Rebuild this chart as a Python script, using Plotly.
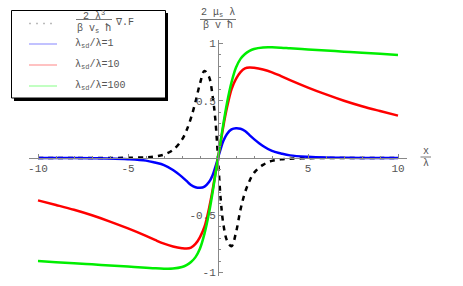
import plotly.graph_objects as go

# ---- data ----
x = [-10, -9, -8, -7, -6, -5, -4, -3.5, -3, -2.5, -2, -1.75, -1.5, -1.25, -1, -0.75, -0.5, -0.3, -0.15,
     0, 0.15, 0.3, 0.5, 0.75, 1, 1.25, 1.5, 1.75, 2, 2.5, 3, 3.5, 4, 5, 6, 7, 8, 9, 10]

div_force = [0, 0, 0, 0, 0, 0.002, 0.006, 0.013, 0.03, 0.07, 0.16, 0.24, 0.35, 0.49, 0.65, 0.76, 0.71, 0.54, 0.34,
             0, -0.36, -0.58, -0.72, -0.77, -0.65, -0.45, -0.3, -0.2, -0.13, -0.06, -0.025, -0.012, -0.006, -0.002,
             0, 0, 0, 0, 0]

ratio_1 = [0, -0.001, -0.001, -0.002, -0.004, -0.01, -0.023, -0.04, -0.062, -0.105, -0.165, -0.2, -0.235, -0.255,
           -0.26, -0.25, -0.21, -0.15, -0.08,
           0, 0.08, 0.15, 0.21, 0.25, 0.26, 0.255, 0.235, 0.2, 0.165, 0.105, 0.062, 0.04, 0.023, 0.01, 0.004,
           0.002, 0.001, 0.001, 0]

ratio_10 = [-0.37, -0.41, -0.452, -0.5, -0.555, -0.615, -0.68, -0.715, -0.748, -0.772, -0.787, -0.79, -0.782,
            -0.75, -0.69, -0.6, -0.44, -0.28, -0.14,
            0, 0.14, 0.28, 0.44, 0.6, 0.69, 0.75, 0.782, 0.79, 0.787, 0.772, 0.748, 0.715, 0.68, 0.615, 0.555,
            0.5, 0.452, 0.41, 0.37]

ratio_100 = [-0.9, -0.909, -0.918, -0.928, -0.938, -0.948, -0.958, -0.963, -0.966, -0.965, -0.952, -0.935,
             -0.908, -0.865, -0.79, -0.66, -0.48, -0.3, -0.15,
             0, 0.15, 0.3, 0.48, 0.66, 0.79, 0.865, 0.908, 0.935, 0.952, 0.965, 0.966, 0.963, 0.958, 0.948,
             0.938, 0.928, 0.918, 0.909, 0.9]

x_ticks = [-10, -5, 5, 10]
x_tick_text = ["-10", "-5", "5", "10"]
y_ticks = [-1, -0.5, 0.5, 1]
y_tick_text = ["-1", "-0.5", "0.5", "1"]

legend_labels = ["λ<sub>sd</sub>/λ=1", "λ<sub>sd</sub>/λ=10", "λ<sub>sd</sub>/λ=100"]

# ---- layout helpers ----
W, H = 463, 286
L, R, T, B = 29, 56, 40, 10
PW, PH = W - L - R, H - T - B


def px(v):
    return (v - L) / PW


def py(v):
    return (H - B - v) / PH


MONO = "Liberation Mono, Courier New, monospace"
GREY = "#555555"

fig = go.Figure()
fig.add_trace(go.Scatter(x=x, y=div_force, mode="lines", line=dict(color="black", width=2.5, dash="5px,5px", shape="spline"),
                         showlegend=False))
fig.add_trace(go.Scatter(x=x, y=ratio_1, mode="lines", line=dict(color="#0000ff", width=2.5, shape="spline"), showlegend=False))
fig.add_trace(go.Scatter(x=x, y=ratio_10, mode="lines", line=dict(color="#ff0000", width=2.5, shape="spline"), showlegend=False))
fig.add_trace(go.Scatter(x=x, y=ratio_100, mode="lines", line=dict(color="#00ee00", width=2.5, shape="spline"), showlegend=False))

shapes = []
annots = []

# legend box with shadow
shapes.append(dict(type="rect", xref="paper", yref="paper", x0=px(14), x1=px(168), y0=py(101), y1=py(13),
                   fillcolor="black", line=dict(width=0), layer="above"))
shapes.append(dict(type="rect", xref="paper", yref="paper", x0=px(11.5), x1=px(165.5), y0=py(98), y1=py(10.5),
                   fillcolor="white", line=dict(color="black", width=1), layer="above"))
legend_colors = ["#9999ff", "#ff9999", "#99ff99"]
legend_y = [44, 65, 86]
shapes.append(dict(type="line", xref="paper", yref="paper", x0=px(29), x1=px(57), y0=py(23.5), y1=py(23.5),
                   line=dict(color="#bbbbbb", width=1.5, dash="2px,5px"), layer="above"))
for c, yy, lab in zip(legend_colors, legend_y, legend_labels):
    shapes.append(dict(type="line", xref="paper", yref="paper", x0=px(29), x1=px(57), y0=py(yy), y1=py(yy),
                       line=dict(color=c, width=1.2), layer="above"))
    annots.append(dict(x=px(73), y=py(yy), xref="paper", yref="paper", text=lab, showarrow=False,
                       xanchor="left", yanchor="middle", font=dict(family=MONO, size=10, color=GREY)))

# first legend entry: fraction
annots.append(dict(x=px(94), y=py(15), xref="paper", yref="paper", text="2 λ<sup>3</sup>", showarrow=False,
                   xanchor="center", yanchor="middle", font=dict(family=MONO, size=10, color=GREY)))
shapes.append(dict(type="line", xref="paper", yref="paper", x0=px(76), x1=px(112), y0=py(19.5), y1=py(19.5),
                   line=dict(color=GREY, width=0.8), layer="above"))
annots.append(dict(x=px(94), y=py(29), xref="paper", yref="paper", text="β v<sub>s</sub> ħ", showarrow=False,
                   xanchor="center", yanchor="middle", font=dict(family=MONO, size=10, color=GREY)))
annots.append(dict(x=px(113), y=py(23), xref="paper", yref="paper", text="∇.F", showarrow=False,
                   xanchor="left", yanchor="middle", font=dict(family=MONO, size=10, color=GREY)))

# y-axis title fraction
annots.append(dict(x=px(218), y=py(13), xref="paper", yref="paper", text="2 μ<sub>s</sub> λ", showarrow=False,
                   xanchor="center", yanchor="middle", font=dict(family=MONO, size=10, color=GREY)))
shapes.append(dict(type="line", xref="paper", yref="paper", x0=px(200), x1=px(236), y0=py(19.5), y1=py(19.5),
                   line=dict(color=GREY, width=0.8), layer="above"))
annots.append(dict(x=px(218), y=py(26), xref="paper", yref="paper", text="β v ħ", showarrow=False,
                   xanchor="center", yanchor="middle", font=dict(family=MONO, size=10, color=GREY)))

# x-axis title fraction
annots.append(dict(x=px(426), y=py(151), xref="paper", yref="paper", text="x", showarrow=False,
                   xanchor="center", yanchor="middle", font=dict(family=MONO, size=10, color=GREY)))
shapes.append(dict(type="line", xref="paper", yref="paper", x0=px(420.5), x1=px(431), y0=py(157), y1=py(157),
                   line=dict(color=GREY, width=0.8), layer="above"))
annots.append(dict(x=px(426), y=py(163.5), xref="paper", yref="paper", text="λ", showarrow=False,
                   xanchor="center", yanchor="middle", font=dict(family=MONO, size=10, color=GREY)))

fig.update_layout(
    width=W, height=H,
    margin=dict(l=L, r=R, t=T, b=B, autoexpand=False),
    paper_bgcolor="white", plot_bgcolor="white",
    showlegend=False,
    shapes=shapes,
    annotations=annots,
    xaxis=dict(range=[-10.5, 10.5], anchor="free", position=0.5, showline=True, linecolor="#888888", linewidth=1,
               showgrid=False, zeroline=False, tickvals=x_ticks, ticktext=x_tick_text, ticks="inside",
               ticklen=4, tickcolor="#888888", automargin=False,
               minor=dict(ticks="inside", dtick=1, tick0=0, ticklen=2, tickcolor="#888888"),
               tickfont=dict(family=MONO, size=11, color=GREY)),
    yaxis=dict(range=[-1.03, 1.03], anchor="free", position=0.5, showline=True, linecolor="#888888", linewidth=1,
               showgrid=False, zeroline=False, tickvals=y_ticks, ticktext=y_tick_text, ticks="inside",
               ticklen=4, tickcolor="#888888", automargin=False,
               minor=dict(ticks="inside", dtick=0.1, tick0=0, ticklen=2, tickcolor="#888888"),
               tickfont=dict(family=MONO, size=11, color=GREY)),
)

fig.write_html("out.html", config={"displayModeBar": False},
               post_script="document.body.style.margin='0';")
